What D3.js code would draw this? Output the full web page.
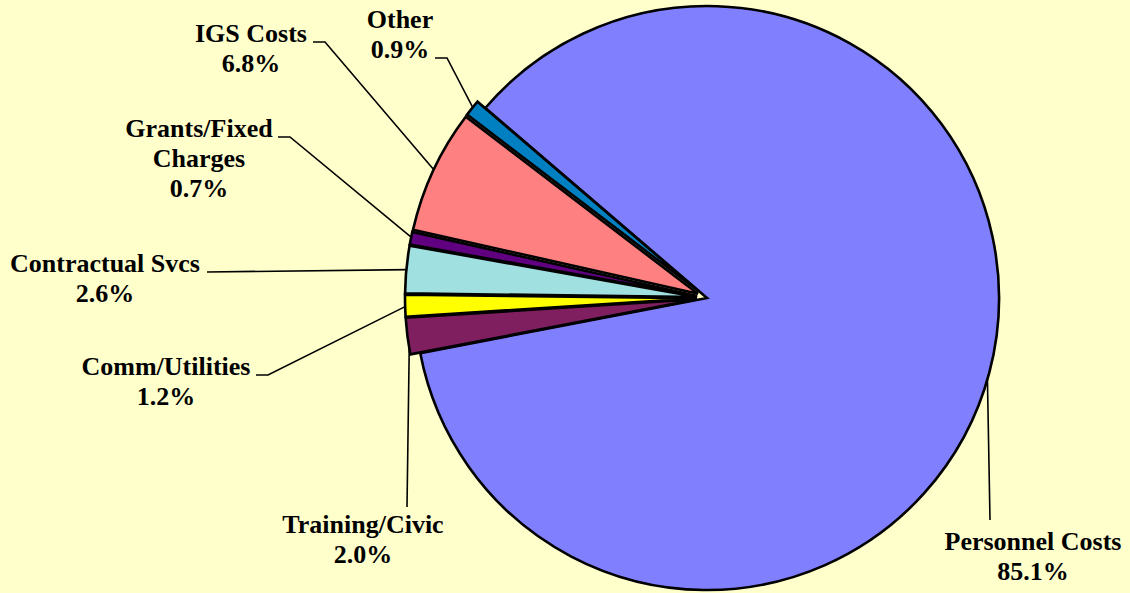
<!DOCTYPE html>
<html>
<head>
<meta charset="utf-8">
<script src="https://cdn.jsdelivr.net/npm/d3@7"></script>
<style>
  body { margin: 0; background: #ffffcc; }
  svg { display: block; }
  .slice_label { font-family: "Liberation Serif", "Times New Roman", serif; font-weight: bold; font-size: 26px; fill: #000; }
</style>
</head>
<body>
<div id="chart"></div>
<script>
// chart data
const categories = ['Personnel Costs', 'Training/Civic', 'Comm/Utilities', 'Contractual Svcs', 'Grants/Fixed Charges', 'IGS Costs', 'Other'];
const shares = [85.1, 2.0, 1.2, 2.6, 0.7, 6.8, 0.9];
const labelLines = [
    ['Personnel Costs'],
    ['Training/Civic'],
    ['Comm/Utilities'],
    ['Contractual Svcs'],
    ['Grants/Fixed', 'Charges'],
    ['IGS Costs'],
    ['Other']
];

// styling / layout
const colors = ['#8080ff', '#7f1f5f', '#ffff00', '#a0e0e0', '#600080', '#ff8080', '#0080c0'];
const exploded = [0, 10, 10, 10, 10, 10, 10];
// label centre x, first baseline y, leader knee and end
const labelLayout = [
    { x: 1033, y: 550, knee: [990, 520], end: [990, 520] },
    { x: 363, y: 533, knee: [407, 507], end: [407, 507] },
    { x: 166, y: 375, knee: [268, 375], end: [256, 375] },
    { x: 105, y: 272, knee: [207, 272], end: [207, 272] },
    { x: 199, y: 137, knee: [290, 137], end: [278, 137] },
    { x: 251, y: 42, knee: [325, 42], end: [313, 42] },
    { x: 400, y: 28, knee: [447, 58], end: [435, 58] }
];

const width = 1130, height = 593,
    cx = 707, cy = 298, radius = 292,
    lineGap = 30;

function initChart(selector) {
    return d3.select(selector)
        .append('svg')
        .attr('width', width)
        .attr('height', height)
        .style('background', '#ffffcc');
}

function buildSlices() {
    let pie = d3.pie()
        .sort(null)
        .value(d => d.share)
        .startAngle(-49.4 * Math.PI / 180)
        .endAngle(-49.4 * Math.PI / 180 + 2 * Math.PI);

    let rows = categories.map((c, i) => ({ name: c, share: shares[i], i }));
    return pie(rows);
}

function offsetOf(d) {
    let mid = (d.startAngle + d.endAngle) / 2,
        e = exploded[d.data.i];
    return [Math.sin(mid) * e, -Math.cos(mid) * e];
}

function addLeaders(chart, slices) {
    chart.append('g')
        .attr('class', 'leaders')
        .selectAll('path')
        .data(slices)
        .enter().append('path')
        .attr('fill', 'none')
        .attr('stroke', '#000')
        .attr('stroke-width', 1.6)
        .attr('d', d => {
            let mid = (d.startAngle + d.endAngle) / 2,
                off = offsetOf(d),
                px = cx + off[0] + Math.sin(mid) * (radius - 2),
                py = cy + off[1] - Math.cos(mid) * (radius - 2),
                l = labelLayout[d.data.i];
            return d3.line()([[px, py], l.knee, l.end]);
        });
}

function addSlices(chart, slices) {
    let arc = d3.arc().innerRadius(0).outerRadius(radius);

    chart.append('g')
        .attr('class', 'slices')
        .attr('transform', `translate(${cx},${cy})`)
        .selectAll('path')
        .data(slices)
        .enter().append('path')
        .attr('transform', d => `translate(${offsetOf(d)})`)
        .attr('fill', d => colors[d.data.i])
        .attr('stroke', '#000')
        .attr('stroke-width', 2.6)
        .attr('stroke-linejoin', 'miter')
        .attr('d', arc);
}

function addLabels(chart, slices) {
    let labels = chart.append('g')
        .attr('class', 'labels')
        .selectAll('text')
        .data(slices)
        .enter().append('text')
        .attr('class', 'slice_label')
        .attr('text-anchor', 'middle');

    labels.each(function(d) {
        let l = labelLayout[d.data.i],
            lines = [...labelLines[d.data.i], d.data.share.toFixed(1) + '%'];
        d3.select(this).selectAll('tspan')
            .data(lines)
            .enter().append('tspan')
            .attr('x', l.x)
            .attr('y', (t, k) => l.y + k * lineGap)
            .text(t => t);
    });
}

let chart = initChart('#chart'),
    slices = buildSlices();

addLeaders(chart, slices);
addSlices(chart, slices);
addLabels(chart, slices);
</script>
</body>
</html>
